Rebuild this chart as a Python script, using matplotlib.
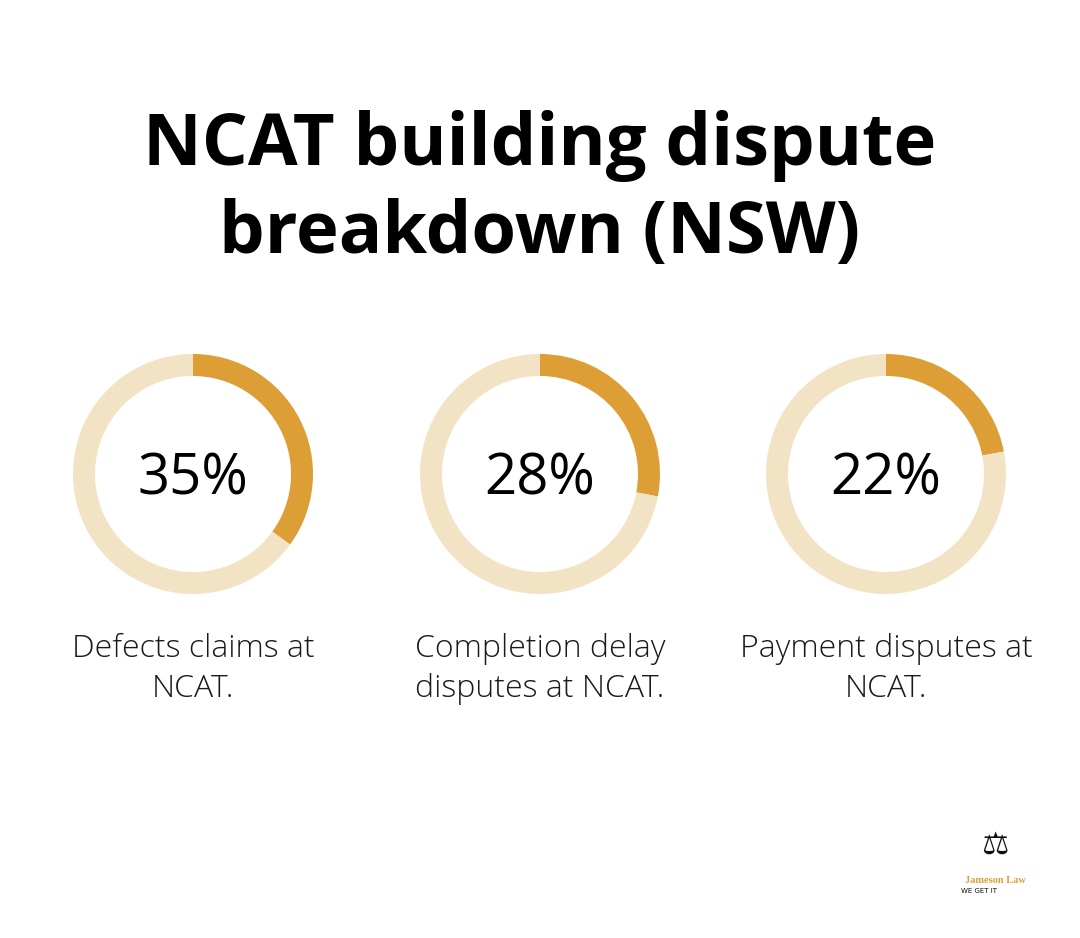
import matplotlib.pyplot as plt

# data
shares = [35, 28, 22]
labels = ['Defects claims at\nNCAT.',
          'Completion delay\ndisputes at NCAT.',
          'Payment disputes at\nNCAT.']
title = 'NCAT building dispute\nbreakdown (NSW)'

dark = '#DE9E36'
light = '#F3E3C5'

W, H = 1080, 938
fig = plt.figure(figsize=(W / 100, H / 100), dpi=100)
fig.patch.set_facecolor('white')

# title
fig.text(540 / W, 1 - 190 / H, title, ha='center', va='center',
         fontsize=52, fontweight='bold', family=['Open Sans', 'DejaVu Sans'],
         linespacing=1.3, color='#000000')

centers_x = [193, 540, 886]
cy = 474
r = 120
for x, val, lab in zip(centers_x, shares, labels):
    ax = fig.add_axes([(x - r) / W, 1 - (cy + r) / H, 2 * r / W, 2 * r / H])
    ax.pie([val, 100 - val], colors=[dark, light], startangle=90,
           counterclock=False, radius=1,
           wedgeprops=dict(width=22 / 120, edgecolor='none'))
    ax.set_aspect('equal')
    ax.set_xlim(-1, 1)
    ax.set_ylim(-1, 1)
    ax.axis('off')
    ax.text(0, -0.05, f'{val}%', ha='center', va='center', fontsize=40.5,
            family=['Open Sans', 'DejaVu Sans'], color='#000000')
    fig.text(x / W, 1 - 669 / H, lab, ha='center', va='center',
             fontsize=23, fontweight='light',
             family=['Open Sans', 'DejaVu Sans'], color='#1a1a1a',
             linespacing=1.33)

# logo
fig.text(995 / W, 1 - 845 / H, '\u2696', ha='center', va='center',
         fontsize=22, color='#111111', family='DejaVu Sans')
fig.text(995 / W, 1 - 880 / H, 'Jameson Law', ha='center', va='center',
         fontsize=7.5, fontweight='bold', color='#D9A23A',
         family=['Liberation Serif', 'DejaVu Serif'])
fig.text(961 / W, 1 - 891 / H, 'WE GET IT', ha='left', va='center',
         fontsize=5, color='#111111', family='DejaVu Sans')

fig.savefig('out.png', dpi=100, facecolor='white')
